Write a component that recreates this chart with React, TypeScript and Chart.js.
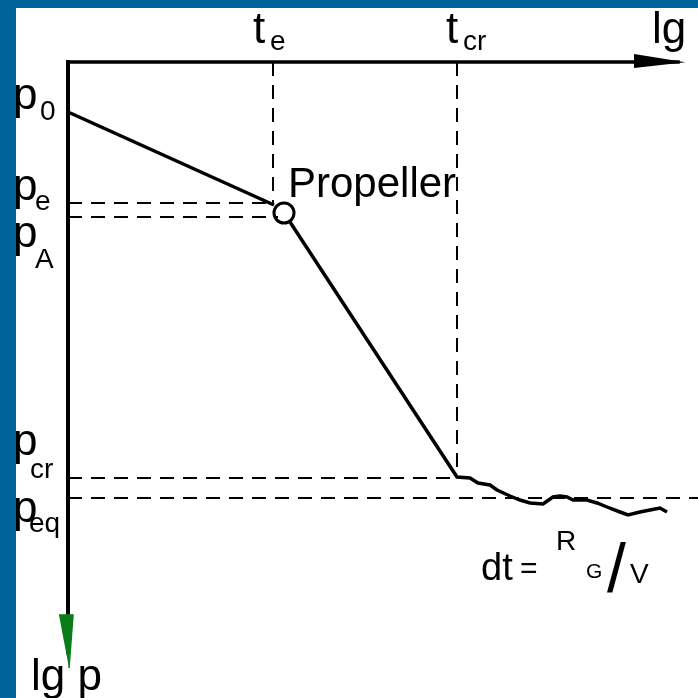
import React, { useEffect, useRef } from "react";
import { Chart, registerables } from "chart.js";

Chart.register(...registerables);

// Scale domain (lg t to the right, lg p downward)
const X_MIN = -0.52;
const X_MAX = 6.3;
const Y_MIN = -0.54;
const Y_MAX = 6.36;

// Characteristic values
const T_E = 2.05;
const T_CR = 3.89;
const P_0 = 0.5;
const P_E = 1.41;
const P_A = 1.55;
const P_CR = 4.16;
const P_EQ = 4.36;

// Propeller marker
const propX = [2.16];
const propY = [1.51];

// Curve, first segment (p0 -> propeller)
const seg1X = [0, 2.06];
const seg1Y = [P_0, 1.43];

// Curve, second segment and noisy plateau
const seg2X = [2.22, 3.89, 4.02, 4.1, 4.22, 4.29, 4.42, 4.52, 4.62, 4.75, 4.85, 4.92, 4.99, 5.05, 5.19, 5.29, 5.39, 5.52, 5.6, 5.72, 5.82, 5.92, 5.99];
const seg2Y = [1.6, 4.15, 4.16, 4.21, 4.23, 4.28, 4.34, 4.38, 4.41, 4.42, 4.35, 4.34, 4.35, 4.38, 4.38, 4.41, 4.45, 4.5, 4.53, 4.5, 4.48, 4.46, 4.5];

// Axis extents
const X_AXIS_END = 6.1;
const Y_AXIS_END = 5.9;
const xArrowX = [5.66, X_AXIS_END, 5.66];
const xArrowY = [-0.07, 0.0, 0.05];
const yArrowX = [-0.09, 0.05, 0.01];
const yArrowY = [5.53, 5.53, 6.06];

// Labels: [main, sub, x, y, subX, subY]
const pLabels: [string, string, number, number, number, number][] = [
  ["p", "0", -0.55, 0.47, -0.28, 0.58],
  ["p", "e", -0.55, 1.38, -0.33, 1.48],
  ["p", "A", -0.55, 1.85, -0.33, 2.06],
  ["p", "cr", -0.55, 3.93, -0.38, 4.16],
  ["p", "eq", -0.55, 4.6, -0.39, 4.7],
];
const tLabels: [string, string, number, number, number, number][] = [
  ["t", "e", 1.85, -0.19, 2.02, -0.12],
  ["t", "cr", 3.78, -0.19, 3.95, -0.12],
];

const FONT = '"Liberation Sans", Arial, Helvetica, sans-serif';

function pts(xs: number[], ys: number[]) {
  return xs.map((x, i) => ({ x, y: ys[i] }));
}

const textPlugin = {
  id: "textLabels",
  afterDatasetsDraw(chart: any) {
    const { ctx, scales } = chart;
    const sx = (v: number) => scales.x.getPixelForValue(v);
    const sy = (v: number) => scales.y.getPixelForValue(v);
    ctx.save();
    ctx.fillStyle = "#000";
    ctx.textAlign = "left";
    ctx.textBaseline = "alphabetic";
    const put = (t: string, x: number, y: number, size: number) => {
      ctx.font = `${size}px ${FONT}`;
      ctx.fillText(t, sx(x), sy(y));
    };
    for (const [m, s, x, y, x2, y2] of pLabels) {
      put(m, x, y, 44);
      put(s, x2, y2, 28);
    }
    for (const [m, s, x, y, x2, y2] of tLabels) {
      put(m, x, y, 44);
      put(s, x2, y2, 28);
    }
    put("lg t", 5.84, -0.19, 44);
    put("lg p", -0.37, 6.28, 44);
    put("Propeller", 2.2, 1.35, 42);
    put("dt", 4.13, 5.18, 38);
    put("=", 4.52, 5.16, 30);
    put("R", 4.88, 4.88, 28);
    put("G", 5.18, 5.16, 21);
    put("/", 5.39, 5.3, 68);
    put("V", 5.62, 5.21, 28);
    ctx.restore();
  },
};

export default function App() {
  const ref = useRef<HTMLCanvasElement>(null);
  useEffect(() => {
    if (!ref.current) return;
    const dash = [14, 9];
    const line = (data: any[], extra: any = {}) => ({
      data,
      showLine: true,
      pointRadius: 0,
      borderColor: "#000",
      borderWidth: 3,
      fill: false,
      ...extra,
    });
    const chart = new Chart(ref.current, {
      type: "scatter",
      data: {
        datasets: [
          line([{ x: T_E, y: 0 }, { x: T_E, y: 1.42 }], { borderWidth: 2, borderDash: dash }),
          line([{ x: T_CR, y: 0 }, { x: T_CR, y: P_CR }], { borderWidth: 2, borderDash: dash }),
          line([{ x: 0, y: P_E }, { x: 2.06, y: P_E }], { borderWidth: 2, borderDash: dash }),
          line([{ x: 0, y: P_A }, { x: 2.1, y: P_A }], { borderWidth: 2, borderDash: dash }),
          line([{ x: 0, y: P_CR }, { x: T_CR, y: P_CR }], { borderWidth: 2, borderDash: dash }),
          line([{ x: 0, y: P_EQ }, { x: X_MAX, y: P_EQ }], { borderWidth: 2, borderDash: dash }),
          line([{ x: 0, y: 0 }, { x: X_AXIS_END, y: 0 }], { borderWidth: 3.5, borderCapStyle: "square" }),
          line(pts(xArrowX, xArrowY), { borderWidth: 2, fill: "shape", backgroundColor: "#000" }),
          line(pts(yArrowX, yArrowY), { borderWidth: 1.5, borderColor: "#0a7d1a", fill: "shape", backgroundColor: "#0a7d1a" }),
          line([{ x: 0, y: 0 }, { x: 0, y: Y_AXIS_END }], { borderWidth: 4, borderCapStyle: "square" }),
          line(pts(seg1X, seg1Y), { borderWidth: 3.5 }),
          line(pts(seg2X, seg2Y), { borderWidth: 3.5, tension: 0 }),
          {
            data: pts(propX, propY),
            showLine: false,
            pointRadius: 10,
            pointBorderWidth: 3,
            pointBorderColor: "#000",
            pointBackgroundColor: "#fff",
          },
        ],
      },
      options: {
        animation: false,
        responsive: false,
        devicePixelRatio: 1,
        layout: { padding: 0, autoPadding: false },
        plugins: { legend: { display: false }, tooltip: { enabled: false } },
        events: [],
        scales: {
          x: { type: "linear", min: X_MIN, max: X_MAX, display: false },
          y: { type: "linear", min: Y_MIN, max: Y_MAX, reverse: true, display: false },
        },
      },
      plugins: [textPlugin],
    });
    return () => chart.destroy();
  }, []);

  return (
    <div style={{ position: "fixed", left: 0, top: 0, width: 698, height: 698, background: "#006399", overflow: "hidden" }}>
      <div style={{ position: "absolute", left: 16, top: 8, width: 682, height: 690, background: "#fff" }}>
        <canvas ref={ref} width={682} height={690} style={{ display: "block", width: 682, height: 690 }} />
      </div>
    </div>
  );
}
